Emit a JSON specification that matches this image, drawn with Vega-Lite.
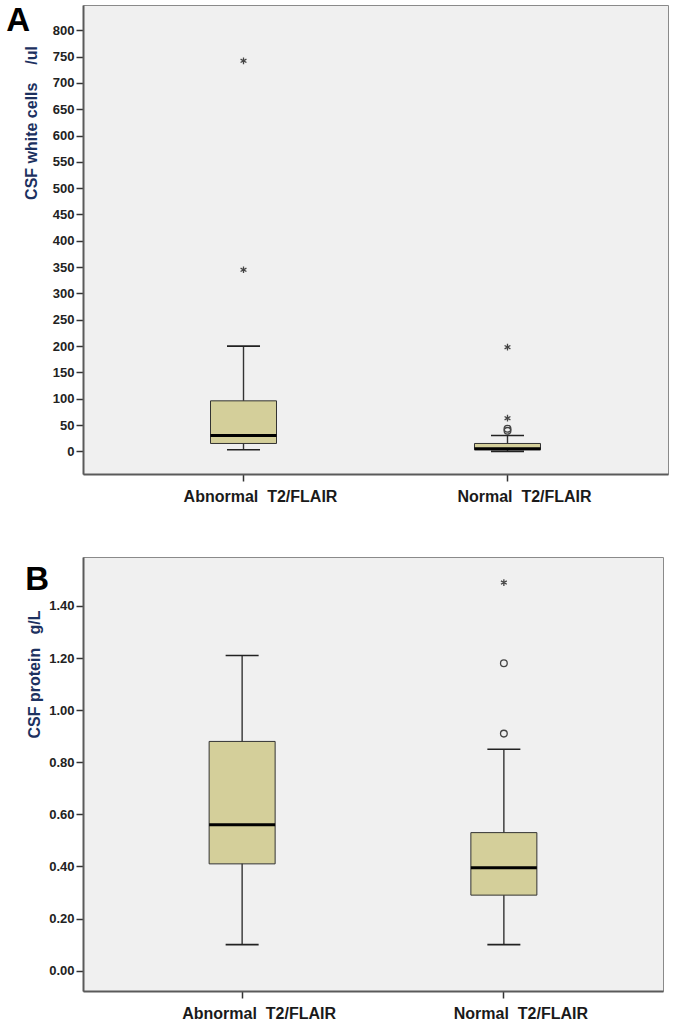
{
  "$schema": "https://vega.github.io/schema/vega-lite/v6.json",
  "padding": {"left": 5, "top": 4, "right": 2, "bottom": 2},
  "background": "white",
  "spacing": 51,
  "datasets": {
    "wbc_box": [
      {"group": "Abnormal\u00a0\u00a0T2/FLAIR", "lower": 3, "q1": 15, "median": 30, "q3": 96, "upper": 200},
      {"group": "Normal\u00a0\u00a0T2/FLAIR", "lower": 0, "q1": 3, "median": 5, "q3": 15, "upper": 30}
    ],
    "wbc_out": [
      {"group": "Abnormal\u00a0\u00a0T2/FLAIR", "value": 742, "kind": "extreme"},
      {"group": "Abnormal\u00a0\u00a0T2/FLAIR", "value": 345, "kind": "extreme"},
      {"group": "Normal\u00a0\u00a0T2/FLAIR", "value": 198, "kind": "extreme"},
      {"group": "Normal\u00a0\u00a0T2/FLAIR", "value": 63, "kind": "extreme"},
      {"group": "Normal\u00a0\u00a0T2/FLAIR", "value": 43, "kind": "outlier"},
      {"group": "Normal\u00a0\u00a0T2/FLAIR", "value": 39, "kind": "outlier"}
    ],
    "prot_box": [
      {"group": "Abnormal\u00a0\u00a0T2/FLAIR", "lower": 0.10, "q1": 0.41, "median": 0.56, "q3": 0.88, "upper": 1.21},
      {"group": "Normal\u00a0\u00a0T2/FLAIR", "lower": 0.10, "q1": 0.29, "median": 0.395, "q3": 0.53, "upper": 0.85}
    ],
    "prot_out": [
      {"group": "Normal\u00a0\u00a0T2/FLAIR", "value": 1.49, "kind": "extreme"},
      {"group": "Normal\u00a0\u00a0T2/FLAIR", "value": 1.18, "kind": "outlier"},
      {"group": "Normal\u00a0\u00a0T2/FLAIR", "value": 0.91, "kind": "outlier"}
    ]
  },
  "config": {
    "view": {"fill": "#f0f0f0", "stroke": "#8a8a8a", "strokeWidth": 1},
    "tick": {"opacity": 1},
    "axis": {
      "grid": false,
      "domainColor": "#5a5a5a",
      "domainWidth": 2,
      "tickColor": "#333333",
      "tickWidth": 1.5,
      "tickSize": 7,
      "labelFont": "Liberation Sans",
      "labelFontWeight": "bold",
      "labelColor": "#222222",
      "labelOverlap": false,
      "titleFont": "Liberation Sans",
      "titleFontWeight": "bold",
      "titleColor": "#1c3160"
    },
    "title": {"font": "Liberation Sans", "fontWeight": "bold", "fontSize": 33, "color": "#000000", "orient": "left", "angle": 0, "anchor": "end", "frame": "group", "baseline": "top", "align": "left"}
  },
  "vconcat": [
    {
      "width": 585,
      "height": 469,
      "title": {"text": "A", "offset": -31, "dy": 0},
      "encoding": {
        "x": {"field": "group", "type": "nominal", "sort": null, "title": null,
          "scale": {"paddingInner": 0, "paddingOuter": 0.108},
          "axis": {"labelAngle": 0, "labelFontSize": 16, "labelPadding": 7, "labelOffset": 17, "labelColor": "#1a1a1a", "domainWidth": 2}}
      },
      "layer": [
        {
          "data": {"name": "wbc_box"},
          "mark": {"type": "rule", "color": "#333333", "strokeWidth": 1.4},
          "encoding": {
            "y": {"field": "lower", "type": "quantitative", "title": "CSF white cells\u00a0\u00a0\u00a0\u00a0/ul",
              "scale": {"domain": [-43, 848], "nice": false, "zero": false},
              "axis": {"values": [0, 50, 100, 150, 200, 250, 300, 350, 400, 450, 500, 550, 600, 650, 700, 750, 800], "labelFontSize": 13, "labelPadding": 2, "titleFontSize": 16, "titleX": -44, "titleY": 117.5, "titleAngle": -90, "titleAlign": "center", "titleBaseline": "bottom"}},
            "y2": {"field": "upper"}
          }
        },
        {
          "data": {"name": "wbc_box"},
          "mark": {"type": "bar", "size": 66, "fill": "#d4cf9a", "stroke": "#333333", "strokeWidth": 1},
          "encoding": {
            "y": {"field": "q1", "type": "quantitative", "title": "CSF white cells\u00a0\u00a0\u00a0\u00a0/ul",
              "axis": {"values": [0, 50, 100, 150, 200, 250, 300, 350, 400, 450, 500, 550, 600, 650, 700, 750, 800], "labelFontSize": 13, "labelPadding": 2, "titleFontSize": 16, "titleX": -44, "titleY": 117.5, "titleAngle": -90, "titleAlign": "center", "titleBaseline": "bottom"}},
            "y2": {"field": "q3"}
          }
        },
        {
          "data": {"name": "wbc_box"},
          "mark": {"type": "tick", "size": 33, "thickness": 1.6, "color": "#222222"},
          "encoding": {"y": {"field": "lower", "type": "quantitative", "title": "CSF white cells\u00a0\u00a0\u00a0\u00a0/ul",
            "axis": {"values": [0, 50, 100, 150, 200, 250, 300, 350, 400, 450, 500, 550, 600, 650, 700, 750, 800], "labelFontSize": 13, "labelPadding": 2, "titleFontSize": 16, "titleX": -44, "titleY": 117.5, "titleAngle": -90, "titleAlign": "center", "titleBaseline": "bottom"}}}
        },
        {
          "data": {"name": "wbc_box"},
          "mark": {"type": "tick", "size": 33, "thickness": 1.6, "color": "#222222"},
          "encoding": {"y": {"field": "upper", "type": "quantitative", "title": "CSF white cells\u00a0\u00a0\u00a0\u00a0/ul",
            "axis": {"values": [0, 50, 100, 150, 200, 250, 300, 350, 400, 450, 500, 550, 600, 650, 700, 750, 800], "labelFontSize": 13, "labelPadding": 2, "titleFontSize": 16, "titleX": -44, "titleY": 117.5, "titleAngle": -90, "titleAlign": "center", "titleBaseline": "bottom"}}}
        },
        {
          "data": {"name": "wbc_box"},
          "mark": {"type": "tick", "size": 66, "thickness": 3, "color": "#000000"},
          "encoding": {"y": {"field": "median", "type": "quantitative", "title": "CSF white cells\u00a0\u00a0\u00a0\u00a0/ul",
            "axis": {"values": [0, 50, 100, 150, 200, 250, 300, 350, 400, 450, 500, 550, 600, 650, 700, 750, 800], "labelFontSize": 13, "labelPadding": 2, "titleFontSize": 16, "titleX": -44, "titleY": 117.5, "titleAngle": -90, "titleAlign": "center", "titleBaseline": "bottom"}}}
        },
        {
          "data": {"name": "wbc_out"},
          "mark": {"type": "point", "filled": false, "size": 45, "strokeWidth": 1.3, "color": "#444444", "opacity": 1},
          "encoding": {
            "y": {"field": "value", "type": "quantitative", "title": "CSF white cells\u00a0\u00a0\u00a0\u00a0/ul",
              "axis": {"values": [0, 50, 100, 150, 200, 250, 300, 350, 400, 450, 500, 550, 600, 650, 700, 750, 800], "labelFontSize": 13, "labelPadding": 2, "titleFontSize": 16, "titleX": -44, "titleY": 117.5, "titleAngle": -90, "titleAlign": "center", "titleBaseline": "bottom"}},
            "shape": {"field": "kind", "type": "nominal", "legend": null,
              "scale": {"domain": ["outlier", "extreme"], "range": ["circle", "M0,-1L0,1M-0.87,-0.5L0.87,0.5M-0.87,0.5L0.87,-0.5"]}}
          }
        }
      ]
    },
    {
      "width": 580,
      "height": 434,
      "title": {"text": "B", "offset": -47, "dy": 7},
      "encoding": {
        "x": {"field": "group", "type": "nominal", "sort": null, "title": null,
          "scale": {"paddingInner": 0, "paddingOuter": 0.108},
          "axis": {"labelAngle": 0, "labelFontSize": 16, "labelPadding": 7, "labelOffset": 17, "labelColor": "#1a1a1a", "domainWidth": 2}}
      },
      "layer": [
        {
          "data": {"name": "prot_box"},
          "mark": {"type": "rule", "color": "#333333", "strokeWidth": 1.4},
          "encoding": {
            "y": {"field": "lower", "type": "quantitative", "title": "CSF protein\u00a0\u00a0\u00a0g/L",
              "scale": {"domain": [-0.078, 1.588], "nice": false, "zero": false},
              "axis": {"values": [0, 0.2, 0.4, 0.6, 0.8, 1.0, 1.2, 1.4], "format": ".2f", "labelFontSize": 13, "labelPadding": 2, "titleFontSize": 16, "titleX": -41, "titleY": 117, "titleAngle": -90, "titleAlign": "center", "titleBaseline": "bottom"}},
            "y2": {"field": "upper"}
          }
        },
        {
          "data": {"name": "prot_box"},
          "mark": {"type": "bar", "size": 66, "fill": "#d4cf9a", "stroke": "#333333", "strokeWidth": 1},
          "encoding": {
            "y": {"field": "q1", "type": "quantitative", "title": "CSF protein\u00a0\u00a0\u00a0g/L",
              "axis": {"values": [0, 0.2, 0.4, 0.6, 0.8, 1.0, 1.2, 1.4], "format": ".2f", "labelFontSize": 13, "labelPadding": 2, "titleFontSize": 16, "titleX": -41, "titleY": 117, "titleAngle": -90, "titleAlign": "center", "titleBaseline": "bottom"}},
            "y2": {"field": "q3"}
          }
        },
        {
          "data": {"name": "prot_box"},
          "mark": {"type": "tick", "size": 33, "thickness": 1.6, "color": "#222222"},
          "encoding": {"y": {"field": "lower", "type": "quantitative", "title": "CSF protein\u00a0\u00a0\u00a0g/L",
            "axis": {"values": [0, 0.2, 0.4, 0.6, 0.8, 1.0, 1.2, 1.4], "format": ".2f", "labelFontSize": 13, "labelPadding": 2, "titleFontSize": 16, "titleX": -41, "titleY": 117, "titleAngle": -90, "titleAlign": "center", "titleBaseline": "bottom"}}}
        },
        {
          "data": {"name": "prot_box"},
          "mark": {"type": "tick", "size": 33, "thickness": 1.6, "color": "#222222"},
          "encoding": {"y": {"field": "upper", "type": "quantitative", "title": "CSF protein\u00a0\u00a0\u00a0g/L",
            "axis": {"values": [0, 0.2, 0.4, 0.6, 0.8, 1.0, 1.2, 1.4], "format": ".2f", "labelFontSize": 13, "labelPadding": 2, "titleFontSize": 16, "titleX": -41, "titleY": 117, "titleAngle": -90, "titleAlign": "center", "titleBaseline": "bottom"}}}
        },
        {
          "data": {"name": "prot_box"},
          "mark": {"type": "tick", "size": 66, "thickness": 3, "color": "#000000"},
          "encoding": {"y": {"field": "median", "type": "quantitative", "title": "CSF protein\u00a0\u00a0\u00a0g/L",
            "axis": {"values": [0, 0.2, 0.4, 0.6, 0.8, 1.0, 1.2, 1.4], "format": ".2f", "labelFontSize": 13, "labelPadding": 2, "titleFontSize": 16, "titleX": -41, "titleY": 117, "titleAngle": -90, "titleAlign": "center", "titleBaseline": "bottom"}}}
        },
        {
          "data": {"name": "prot_out"},
          "mark": {"type": "point", "filled": false, "size": 45, "strokeWidth": 1.3, "color": "#444444", "opacity": 1},
          "encoding": {
            "y": {"field": "value", "type": "quantitative", "title": "CSF protein\u00a0\u00a0\u00a0g/L",
              "axis": {"values": [0, 0.2, 0.4, 0.6, 0.8, 1.0, 1.2, 1.4], "format": ".2f", "labelFontSize": 13, "labelPadding": 2, "titleFontSize": 16, "titleX": -41, "titleY": 117, "titleAngle": -90, "titleAlign": "center", "titleBaseline": "bottom"}},
            "shape": {"field": "kind", "type": "nominal", "legend": null,
              "scale": {"domain": ["outlier", "extreme"], "range": ["circle", "M0,-1L0,1M-0.87,-0.5L0.87,0.5M-0.87,0.5L0.87,-0.5"]}}
          }
        }
      ]
    }
  ]
}
